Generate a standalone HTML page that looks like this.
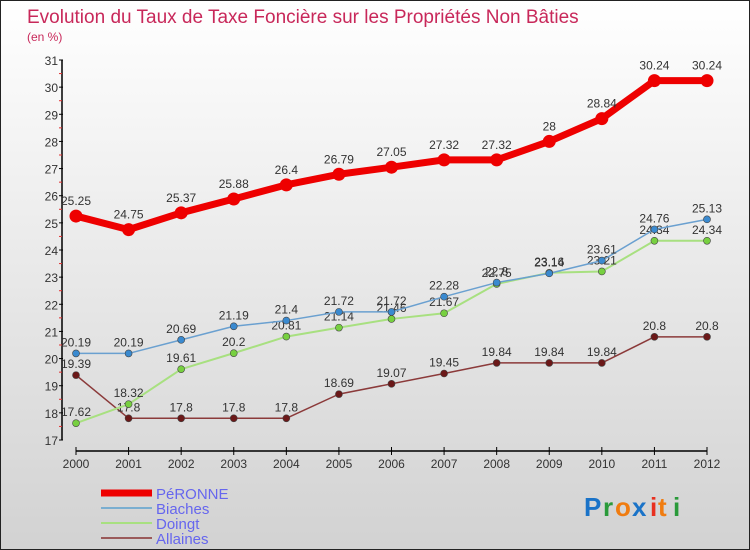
<!DOCTYPE html>
<html><head><meta charset="utf-8"><style>
body{margin:0}
#wrap{width:750px;height:550px;position:relative;box-sizing:border-box;border:1px solid #222;background:linear-gradient(#fff,#d2d2d2);font-family:"Liberation Sans",sans-serif;overflow:hidden}
svg text{font-family:"Liberation Sans",sans-serif}
</style></head><body>
<div id="wrap">
<svg id="c" width="750" height="550" style="position:absolute;left:0;top:0">
<text x="26" y="22" font-size="19" fill="#c8285a">Evolution du Taux de Taxe Foncière sur les Propriétés Non Bâties</text>
<text x="26" y="40" font-size="12" fill="#c8285a">(en %)</text>
<g font-size="26" font-weight="bold" font-family="Liberation Sans">
<text x="583" y="515" fill="#1a73c8">P</text><text x="602" y="515" fill="#2a9a3a">r</text><text x="614" y="515" fill="#f07c10">o</text><text x="631" y="515" fill="#1a73c8">x</text><text x="649" y="515" fill="#e83020">i</text><text x="657" y="515" fill="#f07c10">t</text><text x="672" y="515" fill="#2a9a3a">i</text>
</g>
</svg>
</div>
<script>
const years=[2000,2001,2002,2003,2004,2005,2006,2007,2008,2009,2010,2011,2012];
const yTicks=[17,18,19,20,21,22,23,24,25,26,27,28,29,30,31];
const peronne=[25.25,24.75,25.37,25.88,26.4,26.79,27.05,27.32,27.32,28,28.84,30.24,30.24];
const biaches=[20.19,20.19,20.69,21.19,21.4,21.72,21.72,22.28,22.8,23.14,23.61,24.76,25.13];
const doingt=[17.62,18.32,19.61,20.2,20.81,21.14,21.46,21.67,22.75,23.16,23.21,24.34,24.34];
const allaines=[19.39,17.8,17.8,17.8,17.8,18.69,19.07,19.45,19.84,19.84,19.84,20.8,20.8];
const NS='http://www.w3.org/2000/svg';
const svg=document.getElementById('c');
const X=i=>75+i*(706-75)/12;
const Y=v=>439-(v-17)*(439-59)/14;
function el(t,a,p){const e=document.createElementNS(NS,t);for(const k in a)e.setAttribute(k,a[k]);(p||svg).appendChild(e);return e;}
const ax=el('g',{});


el('line',{x1:61,y1:59,x2:61,y2:439,stroke:'#000','stroke-width':1.5},ax);
yTicks.forEach((t,i)=>{
 el('line',{x1:58,x2:62,y1:Y(t),y2:Y(t),stroke:'#000'},ax);
 if(i<yTicks.length-1) el('line',{x1:58,x2:61,y1:Y(t+0.5),y2:Y(t+0.5),stroke:'#e03030'},ax);
 const tx=el('text',{x:57,y:Y(t)+5,'text-anchor':'end','font-size':12,fill:'#333'},ax);tx.textContent=t;
 
 
});
const xa=el('g',{});


el('line',{x1:75,y1:450,x2:706,y2:450,stroke:'#000','stroke-width':1.5},xa);
years.forEach((y,i)=>{
 el('line',{x1:X(i),x2:X(i),y1:446,y2:454,stroke:'#000'},xa);
 const tx=el('text',{x:X(i),y:467,'text-anchor':'middle','font-size':12,fill:'#333'},xa);tx.textContent=y;
 
 
});
function series(name,data,color,w,r,dot){
 const g=el('g',{});
 
 
 el('polyline',{points:data.map((v,i)=>X(i)+','+Y(v)).join(' '),fill:'none',stroke:color,'stroke-width':w,'stroke-linejoin':'round'},g);
 data.forEach((v,i)=>{
  const c=el('circle',{cx:X(i),cy:Y(v),r:r,fill:dot,stroke:'#444','stroke-width':r>5?0:0.6},g);
  
  
  const t=el('text',{x:X(i),y:Y(v)-(r>5?11:7),'text-anchor':'middle','font-size':12,fill:'#333'},g);t.textContent=v;
  
  
 });
}
series('allaines',allaines,'#8b3a3a',1.5,3.5,'#6b1818');
series('doingt',doingt,'#a8e080',2,3.5,'#77d040');
series('biaches',biaches,'#6aa0d0',1.5,3.5,'#3a8ad0');
series('peronne',peronne,'#ee0000',7,6.5,'#ee0000');
const lg=el('g',{});


[['PéRONNE','#ee0000',7,493],['Biaches','#7aaed0',2,508],['Doingt','#a8e080',2,523],['Allaines','#9a5a5a',2,538]].forEach(([n,c,w,y])=>{
 el('line',{x1:100,x2:151,y1:y-1,y2:y-1,stroke:c,'stroke-width':w},lg);
 const t=el('text',{x:155,y:y+5,'font-size':15,fill:'#6666ee'},lg);t.textContent=n;
 
 
});
</script>
</body></html>
